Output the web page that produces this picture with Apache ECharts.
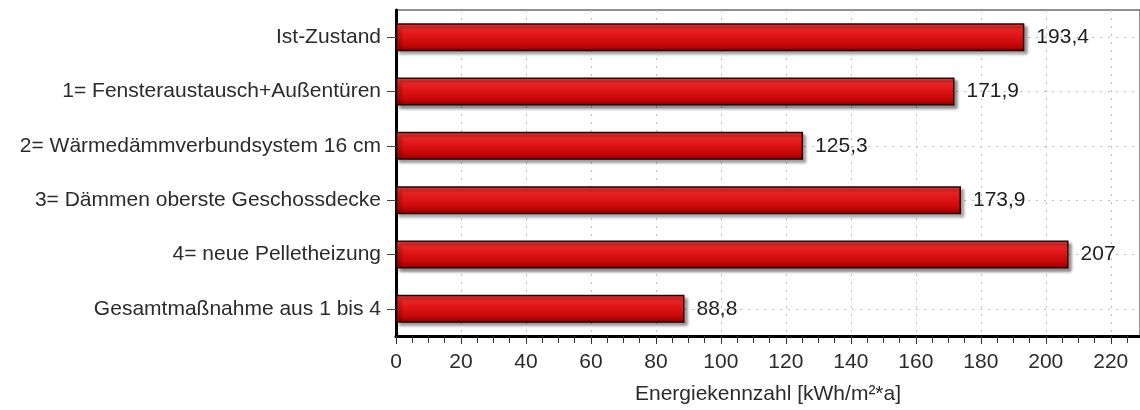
<!DOCTYPE html>
<html>
<head>
<meta charset="utf-8">
<style>
  html, body { margin: 0; padding: 0; background: #fff; }
  #chart { width: 1140px; height: 410px; }
</style>
<script src="https://cdn.jsdelivr.net/npm/echarts@6/dist/echarts.min.js"></script>
</head>
<body>
<div id="chart"></div>
<script>
// Measures, listed top to bottom
const categories = [
  'Ist-Zustand',
  '1= Fensteraustausch+Außentüren',
  '2= Wärmedämmverbundsystem 16 cm',
  '3= Dämmen oberste Geschossdecke',
  '4= neue Pelletheizung',
  'Gesamtmaßnahme aus 1 bis 4'
];
// Energy index per measure [kWh/m²*a]
const values = [193.4, 171.9, 125.3, 173.9, 207, 88.8];
const axisTitle = 'Energiekennzahl [kWh/m²*a]';

const fmt = v => String(v).replace('.', ',');
const font = 'Liberation Sans, Arial, sans-serif';
const textColor = '#2b2b2b';
const gridDots = { color: '#bdbdbd', type: [2, 6], width: 1 };

const chart = echarts.init(document.getElementById('chart'), null, { renderer: 'canvas' });

chart.setOption({
  animation: false,
  backgroundColor: '#ffffff',
  grid: {
    left: 396, right: 0, top: 10, bottom: 74,
    show: true, borderColor: '#222', borderWidth: 1, backgroundColor: 'transparent'
  },
  xAxis: {
    type: 'value',
    min: 0, max: 229, interval: 20,
    name: axisTitle,
    nameLocation: 'middle',
    nameGap: 48,
    nameTextStyle: { fontFamily: font, fontSize: 21, color: textColor },
    axisLine: { show: true, lineStyle: { color: '#000', width: 3 } },
    axisTick: { show: true, inside: false, length: 8, lineStyle: { color: '#333', width: 1 } },
    minorTick: { show: true, splitNumber: 4, length: 7, lineStyle: { color: '#333', width: 1 } },
    axisLabel: { margin: 16, fontFamily: font, fontSize: 21, color: textColor, showMaxLabel: false },
    splitLine: { show: true, lineStyle: gridDots }
  },
  yAxis: {
    type: 'category',
    data: categories,
    inverse: true,
    axisLine: { show: true, lineStyle: { color: '#000', width: 3 } },
    axisTick: { show: true, alignWithLabel: true, length: 9, lineStyle: { color: '#444' } },
    axisLabel: { margin: 15, fontFamily: font, fontSize: 21, color: textColor },
    splitLine: { show: false }
  },
  series: [
    {
      // horizontal dotted guides through each category, kept beneath the bars
      type: 'line',
      data: [],
      silent: true,
      markLine: {
        z: 1,
        silent: true,
        symbol: 'none',
        label: { show: false },
        lineStyle: gridDots,
        data: categories.map(c => ({ yAxis: c }))
      }
    },
    {
      type: 'bar',
      data: values,
      barWidth: 28,
      z: 3,
      itemStyle: {
        color: new echarts.graphic.LinearGradient(0, 0, 0, 1, [
          { offset: 0, color: '#f23a3a' },
          { offset: 0.35, color: '#e51a1a' },
          { offset: 0.75, color: '#c80808' },
          { offset: 1, color: '#8c0000' }
        ]),
        borderColor: '#2a0000',
        borderWidth: 1.5,
        shadowColor: 'rgba(0,0,0,0.45)',
        shadowBlur: 3,
        shadowOffsetX: 3,
        shadowOffsetY: 3
      },
      label: {
        show: true,
        position: 'right',
        distance: 12,
        formatter: p => fmt(p.value),
        fontFamily: font,
        fontSize: 21,
        color: '#1e1e1e'
      }
    }
  ]
});
</script>
</body>
</html>
